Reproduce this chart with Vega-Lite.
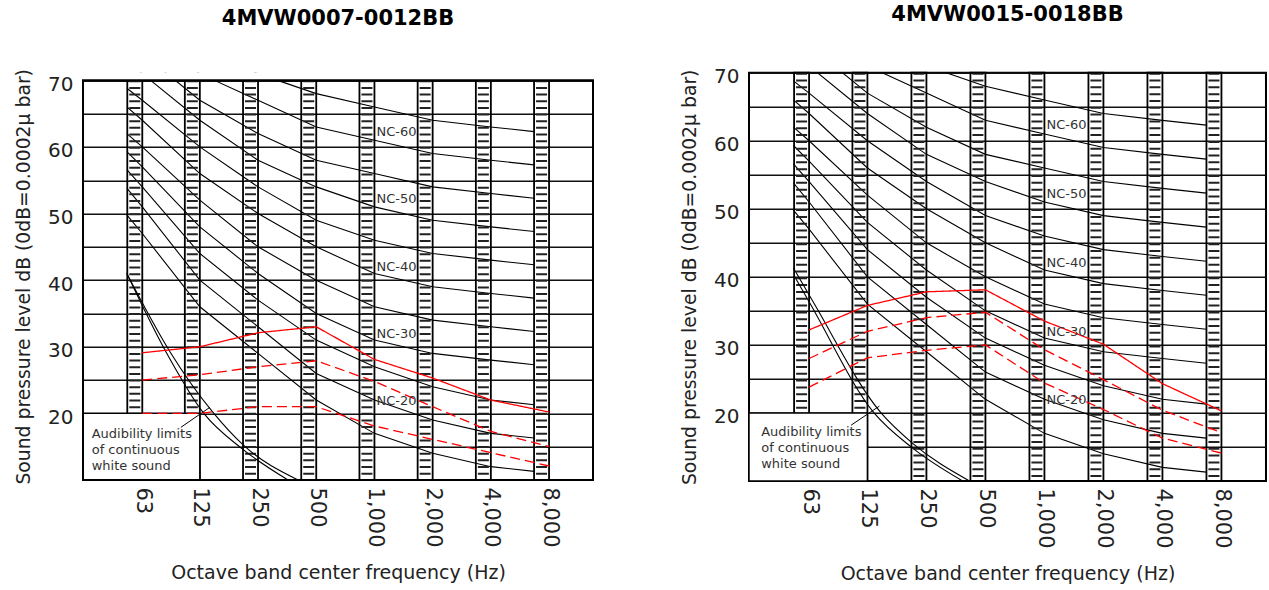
{
  "$schema": "https://vega.github.io/schema/vega-lite/v6.json",
  "padding": {"left": 14, "top": 2.7, "right": 0, "bottom": 0},
  "spacing": 85,
  "config": {
    "font": "DejaVu Sans",
    "view": {"stroke": "#000", "strokeWidth": 2},
    "title": {"fontSize": 21, "fontWeight": "bold", "color": "#000", "anchor": "middle", "frame": "group", "baseline": "alphabetic"},
    "axisX": {"labelAngle": 90, "labelFontSize": 21, "labelPadding": 7, "titleFontSize": 19, "titlePadding": 16, "ticks": false, "domain": false, "grid": false, "labelColor": "#222", "titleColor": "#222", "titleFontWeight": "normal", "labelFlush": false, "labelOverlap": false},
    "axisY": {"labelFontSize": 20, "labelPadding": 10, "labelOffset": 4, "labelColor": "#222", "titleFontSize": 18.8, "titlePadding": 14, "ticks": false, "domain": false, "grid": true, "gridColor": "#111", "gridWidth": 1.4, "titleColor": "#222", "titleFontWeight": "normal", "labelFlush": false, "labelOverlap": false}
  },
  "datasets": {
    "bars": [{"hz":63},{"hz":125},{"hz":250},{"hz":500},{"hz":1000},{"hz":2000},{"hz":4000},{"hz":8000}],
    "nc": [
      {"c":15,"hz":52.4,"db":49.8},{"c":15,"hz":63,"db":47},{"c":15,"hz":125,"db":36},{"c":15,"hz":250,"db":29},{"c":15,"hz":500,"db":22},{"c":15,"hz":1000,"db":17},{"c":15,"hz":2000,"db":14},{"c":15,"hz":4000,"db":12},{"c":15,"hz":6700,"db":11.3},
      {"c":20,"hz":52.4,"db":53.8},{"c":20,"hz":63,"db":51},{"c":20,"hz":125,"db":40},{"c":20,"hz":250,"db":33},{"c":20,"hz":500,"db":26},{"c":20,"hz":1000,"db":22},{"c":20,"hz":2000,"db":19},{"c":20,"hz":4000,"db":17},{"c":20,"hz":6700,"db":16.3},
      {"c":25,"hz":52.4,"db":56.6},{"c":25,"hz":63,"db":54},{"c":25,"hz":125,"db":44},{"c":25,"hz":250,"db":37},{"c":25,"hz":500,"db":31},{"c":25,"hz":1000,"db":27},{"c":25,"hz":2000,"db":24},{"c":25,"hz":4000,"db":22},{"c":25,"hz":6700,"db":21.3},
      {"c":30,"hz":52.4,"db":59.3},{"c":30,"hz":63,"db":57},{"c":30,"hz":125,"db":48},{"c":30,"hz":250,"db":41},{"c":30,"hz":500,"db":35},{"c":30,"hz":1000,"db":31},{"c":30,"hz":2000,"db":29},{"c":30,"hz":4000,"db":28},{"c":30,"hz":6700,"db":27.3},
      {"c":35,"hz":52.4,"db":62.0},{"c":35,"hz":63,"db":60},{"c":35,"hz":125,"db":52},{"c":35,"hz":250,"db":45},{"c":35,"hz":500,"db":40},{"c":35,"hz":1000,"db":36},{"c":35,"hz":2000,"db":34},{"c":35,"hz":4000,"db":33},{"c":35,"hz":6700,"db":32.3},
      {"c":40,"hz":52.4,"db":66.0},{"c":40,"hz":63,"db":64},{"c":40,"hz":125,"db":56},{"c":40,"hz":250,"db":50},{"c":40,"hz":500,"db":45},{"c":40,"hz":1000,"db":41},{"c":40,"hz":2000,"db":39},{"c":40,"hz":4000,"db":38},{"c":40,"hz":6700,"db":37.3},
      {"c":45,"hz":52.4,"db":68.8},{"c":45,"hz":63,"db":67},{"c":45,"hz":125,"db":60},{"c":45,"hz":250,"db":54},{"c":45,"hz":500,"db":49},{"c":45,"hz":1000,"db":46},{"c":45,"hz":2000,"db":44},{"c":45,"hz":4000,"db":43},{"c":45,"hz":6700,"db":42.3},
      {"c":50,"hz":52.4,"db":72.8},{"c":50,"hz":63,"db":71},{"c":50,"hz":125,"db":64},{"c":50,"hz":250,"db":58},{"c":50,"hz":500,"db":54},{"c":50,"hz":1000,"db":51},{"c":50,"hz":2000,"db":49},{"c":50,"hz":4000,"db":48},{"c":50,"hz":6700,"db":47.3},
      {"c":55,"hz":52.4,"db":75.8},{"c":55,"hz":63,"db":74},{"c":55,"hz":125,"db":67},{"c":55,"hz":250,"db":62},{"c":55,"hz":500,"db":58},{"c":55,"hz":1000,"db":56},{"c":55,"hz":2000,"db":54},{"c":55,"hz":4000,"db":53},{"c":55,"hz":6700,"db":52.3},
      {"c":60,"hz":52.4,"db":78.5},{"c":60,"hz":63,"db":77},{"c":60,"hz":125,"db":71},{"c":60,"hz":250,"db":67},{"c":60,"hz":500,"db":63},{"c":60,"hz":1000,"db":61},{"c":60,"hz":2000,"db":59},{"c":60,"hz":4000,"db":58},{"c":60,"hz":6700,"db":57.3},
      {"c":65,"hz":52.4,"db":81.3},{"c":65,"hz":63,"db":80},{"c":65,"hz":125,"db":75},{"c":65,"hz":250,"db":71},{"c":65,"hz":500,"db":68},{"c":65,"hz":1000,"db":66},{"c":65,"hz":2000,"db":64},{"c":65,"hz":4000,"db":63},{"c":65,"hz":6700,"db":62.3}
    ],
    "nclab": [{"label":"NC-60","db":62.3},{"label":"NC-50","db":52.2},{"label":"NC-40","db":42.0},{"label":"NC-30","db":31.9},{"label":"NC-20","db":21.9}],
    "redL": [
      {"s":"A","hz":63,"db":29.1},{"s":"A","hz":125,"db":30.0},{"s":"A","hz":250,"db":32.1},{"s":"A","hz":500,"db":33.0},{"s":"A","hz":1000,"db":28.1},{"s":"A","hz":2000,"db":25.3},{"s":"A","hz":4000,"db":22.0},{"s":"A","hz":8000,"db":20.2},
      {"s":"B","hz":63,"db":25.0},{"s":"B","hz":125,"db":25.8},{"s":"B","hz":250,"db":27.0},{"s":"B","hz":500,"db":27.9},{"s":"B","hz":1000,"db":24.8},{"s":"B","hz":2000,"db":21.0},{"s":"B","hz":4000,"db":17.3},{"s":"B","hz":8000,"db":15.0},
      {"s":"C","hz":63,"db":20.0},{"s":"C","hz":125,"db":20.0},{"s":"C","hz":250,"db":21.0},{"s":"C","hz":500,"db":21.0},{"s":"C","hz":1000,"db":18.1},{"s":"C","hz":2000,"db":16.1},{"s":"C","hz":4000,"db":14.1},{"s":"C","hz":8000,"db":12.1}
    ],
    "redR": [
      {"s":"A","hz":63,"db":32.2},{"s":"A","hz":125,"db":35.8},{"s":"A","hz":250,"db":37.8},{"s":"A","hz":500,"db":38.1},{"s":"A","hz":1000,"db":33.5},{"s":"A","hz":2000,"db":30.1},{"s":"A","hz":4000,"db":24.3},{"s":"A","hz":8000,"db":20.3},
      {"s":"B","hz":63,"db":28.0},{"s":"B","hz":125,"db":32.0},{"s":"B","hz":250,"db":34.0},{"s":"B","hz":500,"db":34.8},{"s":"B","hz":1000,"db":29.3},{"s":"B","hz":2000,"db":24.9},{"s":"B","hz":4000,"db":20.4},{"s":"B","hz":8000,"db":17.1},
      {"s":"C","hz":63,"db":23.8},{"s":"C","hz":125,"db":28.1},{"s":"C","hz":250,"db":29.2},{"s":"C","hz":500,"db":30.0},{"s":"C","hz":1000,"db":24.4},{"s":"C","hz":2000,"db":20.5},{"s":"C","hz":4000,"db":16.3},{"s":"C","hz":8000,"db":14.1}
    ],
    "audL": [
      {"k":"R","hz":52.4,"db":41.0},{"k":"R","hz":87.4,"db":29.3},{"k":"R","hz":147.7,"db":20.0},{"k":"R","hz":208.8,"db":15.3},{"k":"R","hz":402.5,"db":10.0},
      {"k":"L","hz":52.4,"db":41.0},{"k":"L","hz":83.3,"db":29.3},{"k":"L","hz":131.1,"db":20.0},{"k":"L","hz":208.8,"db":14.6},{"k":"L","hz":357.3,"db":10.0}
    ],
    "audR": [
      {"k":"R","hz":52.4,"db":41.3},{"k":"R","hz":65.8,"db":36.4},{"k":"R","hz":146.7,"db":20.0},{"k":"R","hz":211.1,"db":15.6},{"k":"R","hz":414.6,"db":10.0},
      {"k":"L","hz":53.0,"db":40.1},{"k":"L","hz":62.8,"db":36.4},{"k":"L","hz":135.1,"db":20.0},{"k":"L","hz":211.1,"db":14.9},{"k":"L","hz":382.6,"db":10.0}
    ],
    "note": [{"note": "Audibility limits\nof continuous\nwhite sound"}]
  },
  "resolve": {"scale": {"x": "independent", "y": "independent", "strokeDash": "independent"}},
  "hconcat": [
    {
      "width": 510, "height": 407.3,
      "view": {"stroke": null},
      "title": {"text": "4MVW0007-0012BB", "offset": 39.5},
      "resolve": {"axis": {"y": "independent"}},
      "layer": [
        {
          "data": {"name": "nc"},
          "mark": {"type": "line", "clip": true, "color": "#000", "strokeWidth": 1.1},
          "encoding": {
            "x": {"field": "hz", "type": "quantitative", "scale": {"type": "log", "base": 2, "domain": [31.1, 13500], "nice": false, "padding": 0},
              "axis": {"title": "Octave band center frequency (Hz)", "values": [63,125,250,500,1000,2000,4000,8000], "format": ","}},
            "y": {"field": "db", "type": "quantitative", "scale": {"domain": [10, 71.14], "nice": false, "zero": false, "padding": 0},
              "axis": {"orient": "left", "title": "Sound pressure level dB (0dB=0.0002μ bar)", "values": [20,30,40,50,60,70]}},
            "detail": {"field": "c", "type": "nominal"}
          }
        },
        {
          "data": {"name": "bars"},
          "mark": {"type": "rule", "xOffset": -7.5, "strokeWidth": 11, "strokeDash": [2, 4.65], "color": "#222"},
          "encoding": {
            "x": {"field": "hz", "type": "quantitative"},
            "y": {"datum": 70, "type": "quantitative", "axis": null},
            "y2": {"datum": 10}
          }
        },
        {
          "data": {"name": "bars"},
          "mark": {"type": "bar", "width": 15, "xOffset": -7.5, "filled": false, "stroke": "#000", "strokeWidth": 1.8},
          "encoding": {
            "x": {"field": "hz", "type": "quantitative"},
            "y": {"datum": 70, "type": "quantitative", "axis": null},
            "y2": {"datum": 10}
          }
        },
        {
          "data": {"name": "audL"},
          "mark": {"type": "line", "clip": true, "color": "#000", "strokeWidth": 1.1, "interpolate": "monotone"},
          "encoding": {
            "x": {"field": "hz", "type": "quantitative"},
            "y": {"field": "db", "type": "quantitative", "axis": null},
            "detail": {"field": "k", "type": "nominal"}
          }
        },
        {
          "data": {"name": "note"},
          "mark": {"type": "rect", "fill": "#fff", "stroke": "#000", "strokeWidth": 1.5},
          "encoding": {
            "x": {"datum": 31.1, "type": "quantitative"},
            "x2": {"datum": 125},
            "y": {"datum": 20, "type": "quantitative", "axis": null},
            "y2": {"datum": 10}
          }
        },
        {
          "data": {"name": "note"},
          "mark": {"type": "text", "align": "left", "baseline": "middle", "fontSize": 13, "lineHeight": 16, "lineBreak": "\n", "color": "#333"},
          "encoding": {
            "x": {"datum": 34.5, "type": "quantitative"},
            "y": {"datum": 16.95, "type": "quantitative", "axis": null},
            "text": {"field": "note"}
          }
        },
        {
          "data": {"name": "note"},
          "mark": {"type": "rule", "color": "#000", "strokeWidth": 1},
          "encoding": {
            "x": {"datum": 99.7, "type": "quantitative"},
            "y": {"datum": 17.9, "type": "quantitative", "axis": null},
            "x2": {"datum": 140.8},
            "y2": {"datum": 20.9}
          }
        },
        {
          "data": {"name": "redL"},
          "mark": {"type": "line", "clip": true, "color": "#ff0000", "strokeWidth": 1.3},
          "encoding": {
            "x": {"field": "hz", "type": "quantitative"},
            "y": {"field": "db", "type": "quantitative",
              "axis": {"orient": "left", "title": null, "values": [15,25,35,45,55,65], "labels": false, "grid": true, "ticks": false, "domain": false}},
            "strokeDash": {"field": "s", "type": "nominal", "scale": {"domain": ["A","B","C"], "range": [[1,0],[10,5],[10,5]]}, "legend": null}
          }
        },
        {
          "data": {"name": "nclab"},
          "mark": {"type": "text", "align": "left", "baseline": "middle", "dx": 2, "fontSize": 13, "color": "#333"},
          "encoding": {
            "x": {"datum": 1000, "type": "quantitative"},
            "y": {"field": "db", "type": "quantitative", "axis": null},
            "text": {"field": "label"}
          }
        },
        {
          "data": {"name": "note"},
          "mark": {"type": "rect", "fill": "#fff", "strokeWidth": 0},
          "encoding": {
            "x": {"datum": 31.1, "type": "quantitative"},
            "x2": {"datum": 13500},
            "y": {"datum": 70, "type": "quantitative", "axis": null},
            "y2": {"datum": 71.14}
          }
        },
        {
          "data": {"name": "note"},
          "mark": {"type": "rect", "filled": false, "stroke": "#000", "strokeWidth": 2},
          "encoding": {
            "x": {"datum": 31.1, "type": "quantitative"},
            "x2": {"datum": 13500},
            "y": {"datum": 70, "type": "quantitative", "axis": null},
            "y2": {"datum": 10}
          }
        }
      ]
    },
    {
      "width": 517, "height": 408.3,
      "title": {"text": "4MVW0015-0018BB", "offset": 41.5},
      "resolve": {"axis": {"y": "independent"}},
      "layer": [
        {
          "data": {"name": "nc"},
          "mark": {"type": "line", "clip": true, "color": "#000", "strokeWidth": 1.1},
          "encoding": {
            "x": {"field": "hz", "type": "quantitative", "scale": {"type": "log", "base": 2, "domain": [31.1, 13500], "nice": false, "padding": 0},
              "axis": {"title": "Octave band center frequency (Hz)", "values": [63,125,250,500,1000,2000,4000,8000], "format": ","}},
            "y": {"field": "db", "type": "quantitative", "scale": {"domain": [10, 70], "nice": false, "zero": false, "padding": 0},
              "axis": {"orient": "left", "title": "Sound pressure level dB (0dB=0.0002μ bar)", "values": [20,30,40,50,60,70]}},
            "detail": {"field": "c", "type": "nominal"}
          }
        },
        {
          "data": {"name": "bars"},
          "mark": {"type": "rule", "xOffset": -7.5, "strokeWidth": 11, "strokeDash": [2, 4.82], "color": "#222"},
          "encoding": {
            "x": {"field": "hz", "type": "quantitative"},
            "y": {"datum": 70, "type": "quantitative", "axis": null},
            "y2": {"datum": 10}
          }
        },
        {
          "data": {"name": "bars"},
          "mark": {"type": "bar", "width": 15, "xOffset": -7.5, "filled": false, "stroke": "#000", "strokeWidth": 1.8},
          "encoding": {
            "x": {"field": "hz", "type": "quantitative"},
            "y": {"datum": 70, "type": "quantitative", "axis": null},
            "y2": {"datum": 10}
          }
        },
        {
          "data": {"name": "audR"},
          "mark": {"type": "line", "clip": true, "color": "#000", "strokeWidth": 1.1, "interpolate": "monotone"},
          "encoding": {
            "x": {"field": "hz", "type": "quantitative"},
            "y": {"field": "db", "type": "quantitative", "axis": null},
            "detail": {"field": "k", "type": "nominal"}
          }
        },
        {
          "data": {"name": "note"},
          "mark": {"type": "rect", "fill": "#fff", "stroke": "#000", "strokeWidth": 1.5},
          "encoding": {
            "x": {"datum": 31.1, "type": "quantitative"},
            "x2": {"datum": 125},
            "y": {"datum": 20, "type": "quantitative", "axis": null},
            "y2": {"datum": 10}
          }
        },
        {
          "data": {"name": "note"},
          "mark": {"type": "text", "align": "left", "baseline": "middle", "fontSize": 13, "lineHeight": 16, "lineBreak": "\n", "color": "#333"},
          "encoding": {
            "x": {"datum": 35.9, "type": "quantitative"},
            "y": {"datum": 17.23, "type": "quantitative", "axis": null},
            "text": {"field": "note"}
          }
        },
        {
          "data": {"name": "note"},
          "mark": {"type": "rule", "color": "#000", "strokeWidth": 1},
          "encoding": {
            "x": {"datum": 103.2, "type": "quantitative"},
            "y": {"datum": 18.2, "type": "quantitative", "axis": null},
            "x2": {"datum": 143.8},
            "y2": {"datum": 21.0}
          }
        },
        {
          "data": {"name": "redR"},
          "mark": {"type": "line", "clip": true, "color": "#ff0000", "strokeWidth": 1.3},
          "encoding": {
            "x": {"field": "hz", "type": "quantitative"},
            "y": {"field": "db", "type": "quantitative",
              "axis": {"orient": "left", "title": null, "values": [15,25,35,45,55,65], "labels": false, "grid": true, "ticks": false, "domain": false}},
            "strokeDash": {"field": "s", "type": "nominal", "scale": {"domain": ["A","B","C"], "range": [[1,0],[10,5],[10,5]]}, "legend": null}
          }
        },
        {
          "data": {"name": "nclab"},
          "mark": {"type": "text", "align": "left", "baseline": "middle", "dx": 2, "fontSize": 13, "color": "#333"},
          "encoding": {
            "x": {"datum": 1000, "type": "quantitative"},
            "y": {"field": "db", "type": "quantitative", "axis": null},
            "text": {"field": "label"}
          }
        }
      ]
    }
  ]
}
